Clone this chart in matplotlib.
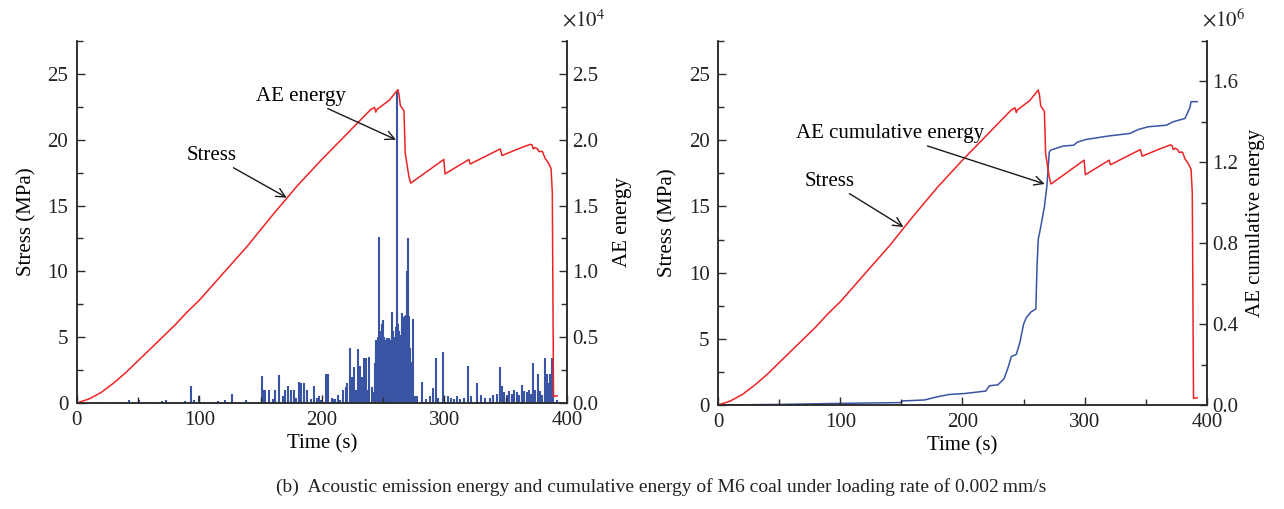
import numpy as np
import matplotlib
matplotlib.use("Agg")
import matplotlib.pyplot as plt
from matplotlib.ticker import MultipleLocator, FuncFormatter

plt.rcParams['font.family'] = ['Liberation Serif', 'DejaVu Serif']
plt.rcParams['mathtext.fontset'] = 'stix'

RED = '#ee2324'
BLUE = '#3a54a4'
AX = '#2b2b2b'

# stress curve (s, MPa) -- same loading test in both panels
stress_t = [0, 10, 20, 30, 40, 50, 60, 70, 80, 90, 100, 120, 140, 160, 180, 200,
            220, 240, 243, 244, 245, 255, 262, 263, 264, 265.5, 267, 268, 269,
            271, 272.5, 299.5, 300.5, 320, 321, 345.5, 347, 360, 370, 371.5,
            372.5, 374, 376, 377, 380, 382, 385, 387, 388, 389, 392]
stress = [0, 0.3, 0.8, 1.5, 2.3, 3.2, 4.1, 5.0, 5.9, 6.9, 7.8, 9.9, 12.0, 14.3,
          16.5, 18.5, 20.4, 22.3, 22.45, 22.1, 22.3, 23.0, 23.8, 23.4, 22.6,
          22.4, 22.2, 19.0, 18.4, 17.2, 16.7, 18.5, 17.4, 18.5, 18.15, 19.3,
          18.8, 19.3, 19.65, 19.6, 19.3, 19.4, 19.3, 19.1, 19.1, 18.6, 18.2,
          17.8, 16.0, 0.5, 0.55]

# AE energy events (s, J)
ae_time = [20, 30, 42.5, 45, 51, 55, 60, 65, 70, 73, 78, 85, 88, 93, 96, 100,
           104, 110, 115, 121, 127, 132, 138, 143, 147,
           150.9, 152, 154, 157, 160, 161.8, 165, 168, 169.9, 172.6, 174.5,
           177, 179, 181.4, 183, 185.4, 187.6, 191, 193.8, 196, 197.6, 199,
           203.4, 205.3, 208, 209.4, 211, 213.5, 215, 217, 219.7, 220.5, 223,
           224.5, 225.7, 226.3, 228, 229.7, 231.1, 232.4, 233.5, 234.6, 236,
           237.2, 238.8, 240.7, 241.5, 242.6,
           243.0, 243.5, 244.0, 244.5, 245.0, 245.5, 246.0, 246.5, 247.0,
           247.5, 248.0, 248.5, 249.0, 249.5, 250.0, 250.5, 251.0, 251.5,
           252.0, 252.5, 253.0, 253.5, 254.0, 254.5, 255.0, 255.5, 256.0,
           256.5, 257.0, 257.5, 258.0, 258.5, 259.0, 259.5, 260.0, 260.5,
           261.0, 261.5, 262.0, 262.5, 263.0, 263.5, 264.0, 264.5, 265.0,
           265.5, 266.0, 266.5, 267.0, 267.5, 268.0, 268.5, 269.0, 269.5,
           270.0, 270.5, 271.0, 271.5, 272.0, 272.5, 273.0, 273.5, 274.0,
           274.7, 276, 278, 281.4, 285, 288, 291, 293.1, 295, 299.1, 303, 305,
           308, 310, 313, 316, 319, 322, 326.8, 330, 333, 337, 340, 343,
           345.1, 346.8, 349, 351, 353, 355, 357, 359, 361, 363.4, 365, 367,
           369, 370.5, 372.4, 374, 376.7, 378, 380, 382.4, 384, 385, 386,
           387.4, 388.5, 391.7]
ae_energy = [80, 60, 200, 100, 200, 80, 100, 60, 120, 250, 100, 80, 150, 1300,
             200, 500, 100, 80, 150, 200, 650, 100, 200, 100, 80,
             2070, 1000, 1000, 1000, 300, 1000, 2100, 500, 1000, 1300, 1000,
             1000, 400, 1600, 1500, 1500, 1000, 300, 1300, 400, 500, 200,
             2200, 2200, 400, 300, 300, 600, 200, 1000, 1200, 1500, 4200,
             2000, 1200, 2700, 1000, 4100, 2800, 2000, 1400, 3400, 3400,
             1000, 3500, 1200, 800, 500,
             1400, 3000, 4200, 4800, 4500, 4800, 5000, 4700, 12600,
             4900, 4800, 5500, 6000, 4700, 6300, 5000, 4900, 4600,
             4800, 4500, 4900, 4700, 4400, 4900, 3000, 3800, 4400,
             4800, 5200, 6900, 5500, 4200, 1000, 4500, 5000, 5800,
             23600, 7000, 5200, 6000, 5500, 4000, 4800, 5200, 5800,
             6800, 6200, 6500, 6000, 6600, 6200, 5600, 6700, 10000,
             12500, 8500, 6600, 6000, 4200, 3100, 500, 300, 400,
             6400, 500, 500, 1600, 300, 500, 1100, 3400, 400, 3900, 500, 400,
             300, 500, 300, 400, 2800, 500, 1500, 600, 400, 400, 600, 700,
             2700, 1300, 800, 600, 900, 700, 1000, 800, 600, 1400, 900, 800,
             1000, 700, 3000, 1000, 2200, 900, 600, 3400, 2200, 1500, 2200,
             3400, 800, 200]

# AE cumulative energy (s, J)
cum_time = [0, 50, 99, 150, 150.5, 169, 179, 189, 202, 219, 222, 229, 234,
            237, 240, 244, 247, 250, 252, 256, 260, 261, 262, 264, 267, 269,
            271, 272, 282, 291, 294, 301, 319, 337, 344, 352, 367, 372, 382,
            386, 387, 392]
cum_energy = [0, 3e3, 8e3, 1.2e4, 2.0e4, 2.5e4, 4.0e4, 5.2e4, 5.7e4, 6.9e4,
              9.5e4, 1.0e5, 1.3e5, 1.8e5, 2.4e5, 2.5e5, 3.1e5, 4.0e5, 4.3e5,
              4.6e5, 4.75e5, 6.9e5, 8.2e5, 8.8e5, 9.8e5, 1.08e6, 1.25e6,
              1.26e6, 1.28e6, 1.285e6, 1.30e6, 1.313e6, 1.33e6, 1.343e6,
              1.363e6, 1.376e6, 1.384e6, 1.40e6, 1.417e6, 1.47e6, 1.50e6,
              1.50e6]

caption = "(b)  Acoustic emission energy and cumulative energy of M6 coal under loading rate of 0.002\u2009mm/s"

fig = plt.figure(figsize=(12.84, 5.09), dpi=100)
ax_l = fig.add_axes([0.0597, 0.2083, 0.3819, 0.7112])
ax_r = fig.add_axes([0.5592, 0.2043, 0.3808, 0.7151])


def style_axes(ax, ax2):
  for a in (ax, ax2):
    a.spines['top'].set_visible(False)
    for s in ('left', 'right', 'bottom'):
      a.spines[s].set_color(AX)
      a.spines[s].set_linewidth(1.1)
    a.tick_params(which='both', direction='in', colors=AX, labelsize=15,
                  labelcolor='#222222', width=1.0, top=False)
    a.tick_params(which='major', length=6)
    a.tick_params(which='minor', length=4)
  ax.tick_params(axis='x', pad=6)
  ax.tick_params(axis='y', pad=6)
  ax2.tick_params(axis='y', pad=4)
  ax.set_xlim(0, 400)
  ax.set_ylim(0, 27.5)
  ax.xaxis.set_major_locator(MultipleLocator(100))
  ax.xaxis.set_minor_locator(MultipleLocator(50))
  ax.yaxis.set_major_locator(MultipleLocator(5))
  ax.yaxis.set_minor_locator(MultipleLocator(2.5))
  ax.set_xlabel("Time (s)", fontsize=15, labelpad=3)
  ax.set_ylabel("Stress (MPa)", fontsize=15, labelpad=8)
  ax.set_zorder(ax2.get_zorder() + 1)
  ax.patch.set_visible(False)


# ---- left panel: stress + AE energy
ax_l2 = ax_l.twinx()
ax_l2.vlines(ae_time, 0, ae_energy, color=BLUE, linewidth=1.5)
ax_l2.set_ylim(0, 27500)
ax_l2.yaxis.set_major_locator(MultipleLocator(5000))
ax_l2.yaxis.set_minor_locator(MultipleLocator(2500))
ax_l2.yaxis.set_major_formatter(FuncFormatter(lambda v, p: "%.1f" % (v / 1e4)))
ax_l2.set_ylabel("AE energy", fontsize=15, labelpad=10)
ax_l.plot(stress_t, stress, color=RED, linewidth=1.1)
style_axes(ax_l, ax_l2)
ax_l2.text(0.99, 1.025, r"$\times10^{4}$", transform=ax_l2.transAxes,
           fontsize=15, ha='left', va='bottom', color='#222222')

arrow = dict(arrowstyle='->', color='#1a1a1a', lw=1.0, shrinkA=0, shrinkB=0,
             mutation_scale=16)
ax_l.annotate("AE energy", xy=(260.5, 20.0), xytext=(219.5, 23.3),
              fontsize=15, ha='right', va='center', arrowprops=arrow)
ax_l.annotate("Stress", xy=(171.3, 15.6), xytext=(130.5, 18.8),
              fontsize=15, ha='right', va='center', arrowprops=arrow)

# ---- right panel: stress + AE cumulative energy
ax_r2 = ax_r.twinx()
ax_r2.plot(cum_time, cum_energy, color=BLUE, linewidth=1.1)
ax_r2.set_ylim(0, 1.8e6)
ax_r2.yaxis.set_major_locator(MultipleLocator(4e5))
ax_r2.yaxis.set_minor_locator(MultipleLocator(2e5))
ax_r2.yaxis.set_major_formatter(FuncFormatter(lambda v, p: "%.1f" % (v / 1e6)))
ax_r2.set_ylabel("AE cumulative energy", fontsize=15, labelpad=5)
ax_r.plot(stress_t, stress, color=RED, linewidth=1.1)
style_axes(ax_r, ax_r2)
ax_r2.text(0.99, 1.025, r"$\times10^{6}$", transform=ax_r2.transAxes,
           fontsize=15, ha='left', va='bottom', color='#222222')

ax_r.annotate("AE cumulative energy", xy=(267.3, 16.7), xytext=(217.3, 20.5),
              fontsize=15, ha='right', va='center', arrowprops=arrow)
ax_r.annotate("Stress", xy=(151.7, 13.45), xytext=(111.7, 16.9),
              fontsize=15, ha='right', va='center', arrowprops=arrow)

fig.text(0.515, 0.043, caption, fontsize=14, ha='center', va='center',
         color='#222222')

fig.savefig("out.png", dpi=100)
